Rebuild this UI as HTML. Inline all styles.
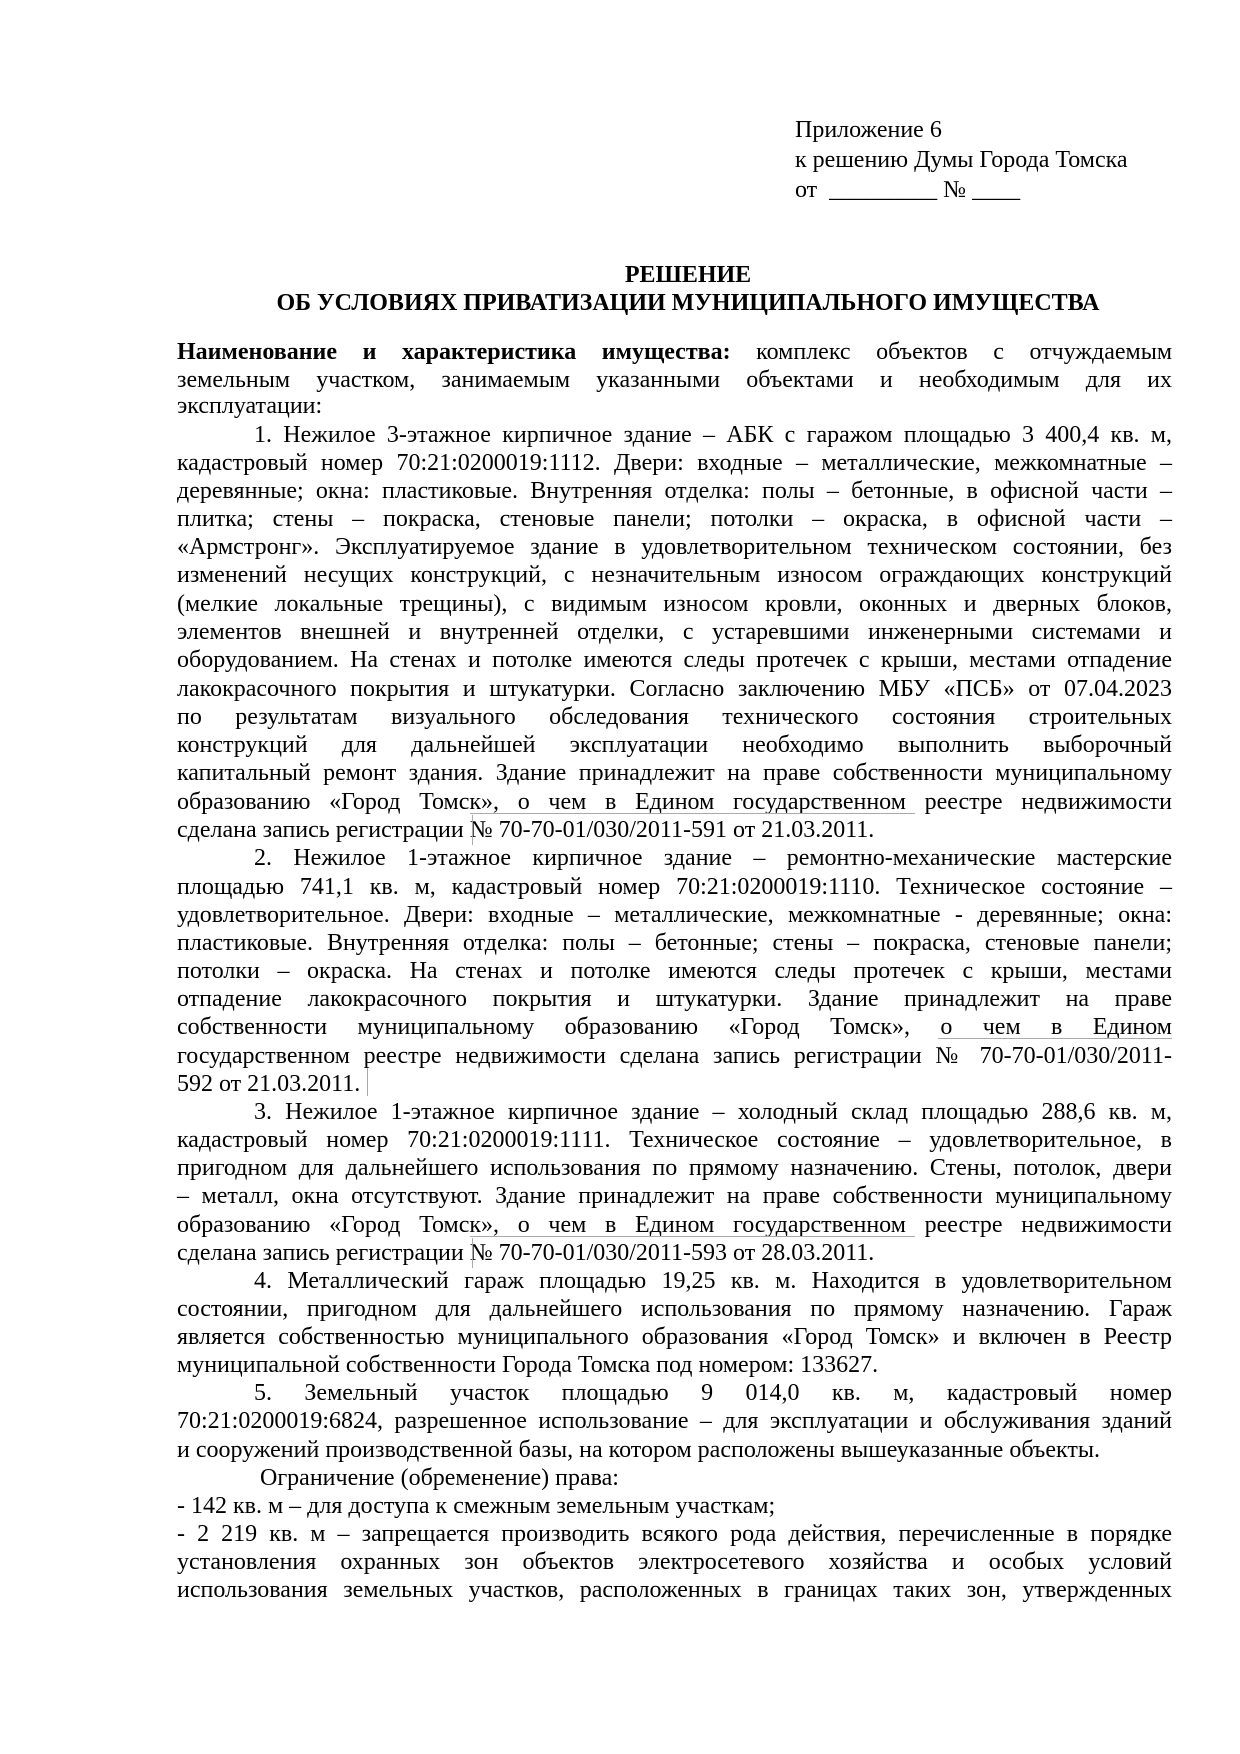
<!DOCTYPE html>
<html><head><meta charset="utf-8"><style>
body{margin:0;background:#fff;}
#p{position:relative;width:1240px;height:1754px;overflow:hidden;font-family:"Liberation Serif","DejaVu Serif",serif;font-size:24px;color:#000;}
.l{position:absolute;height:28px;line-height:28px;white-space:nowrap;text-align:justify;text-align-last:justify;}
.e{text-align:left;text-align-last:left;}
.c{text-align:center;text-align-last:center;font-weight:bold;}
.bx{position:absolute;border:1px solid #aaa;}
.ln{position:absolute;height:0;border-top:1px solid #aaa;}
</style></head><body><div id="p">
<div class="l e" style="left:795px;width:150px;top:116px">Приложение 6</div>
<div class="l e" style="left:795px;width:348px;top:146px">к решению Думы Города Томска</div>
<div class="l e" style="left:795px;width:238px;top:176px">от &nbsp;_________ № ____</div>
<div class="l c" style="left:188px;width:1000px;top:261px">РЕШЕНИЕ</div>
<div class="l c" style="left:188px;width:1000px;top:289px">ОБ УСЛОВИЯХ ПРИВАТИЗАЦИИ МУНИЦИПАЛЬНОГО ИМУЩЕСТВА</div>

<div class="l" style="left:177px;width:995px;top:338px"><b>Наименование и характеристика имущества:</b> комплекс объектов с отчуждаемым</div>
<div class="l" style="left:177px;width:995px;top:366px">земельным участком, занимаемым указанными объектами и необходимым для их</div>
<div class="l e" style="left:177px;width:137px;top:392px">эксплуатации:</div>
<div class="l" style="left:254px;width:918px;top:421px">1. Нежилое 3-этажное кирпичное здание – АБК с гаражом площадью 3 400,4 кв. м,</div>
<div class="l" style="left:177px;width:995px;top:449px">кадастровый номер 70:21:0200019:1112. Двери: входные – металлические, межкомнатные –</div>
<div class="l" style="left:177px;width:995px;top:477px">деревянные; окна: пластиковые. Внутренняя отделка: полы – бетонные, в офисной части –</div>
<div class="l" style="left:177px;width:995px;top:505px">плитка; стены – покраска, стеновые панели; потолки – окраска, в офисной части –</div>
<div class="l" style="left:177px;width:995px;top:533px">«Армстронг». Эксплуатируемое здание в удовлетворительном техническом состоянии, без</div>
<div class="l" style="left:177px;width:995px;top:561px">изменений несущих конструкций, с незначительным износом ограждающих конструкций</div>
<div class="l" style="left:177px;width:995px;top:590px">(мелкие локальные трещины), с видимым износом кровли, оконных и дверных блоков,</div>
<div class="l" style="left:177px;width:995px;top:618px">элементов внешней и внутренней отделки, с устаревшими инженерными системами и</div>
<div class="l" style="left:177px;width:995px;top:646px">оборудованием. На стенах и потолке имеются следы протечек с крыши, местами отпадение</div>
<div class="l" style="left:177px;width:995px;top:675px">лакокрасочного покрытия и штукатурки. Согласно заключению МБУ «ПСБ» от 07.04.2023</div>
<div class="l" style="left:177px;width:995px;top:703px">по результатам визуального обследования технического состояния строительных</div>
<div class="l" style="left:177px;width:995px;top:731px">конструкций для дальнейшей эксплуатации необходимо выполнить выборочный</div>
<div class="l" style="left:177px;width:995px;top:759px">капитальный ремонт здания. Здание принадлежит на праве собственности муниципальному</div>
<div class="l" style="left:177px;width:995px;top:788px">образованию «Город Томск», о чем в Едином государственном реестре недвижимости</div>
<div class="ln" style="left:470px;width:445px;top:813px"></div>
<div class="l e" style="left:177px;width:758px;top:816px">сделана запись регистрации № 70-70-01/030/2011-591 от 21.03.2011.</div>
<div class="bx" style="left:472px;width:0;top:815px;height:30px;border-width:0 0 0 1px"></div>
<div class="l" style="left:254px;width:918px;top:844px">2. Нежилое 1-этажное кирпичное здание – ремонтно-механические мастерские</div>
<div class="l" style="left:177px;width:995px;top:873px">площадью 741,1 кв. м, кадастровый номер 70:21:0200019:1110. Техническое состояние –</div>
<div class="l" style="left:177px;width:995px;top:901px">удовлетворительное. Двери: входные – металлические, межкомнатные - деревянные; окна:</div>
<div class="l" style="left:177px;width:995px;top:929px">пластиковые. Внутренняя отделка: полы – бетонные; стены – покраска, стеновые панели;</div>
<div class="l" style="left:177px;width:995px;top:957px">потолки – окраска. На стенах и потолке имеются следы протечек с крыши, местами</div>
<div class="l" style="left:177px;width:995px;top:985px">отпадение лакокрасочного покрытия и штукатурки. Здание принадлежит на праве</div>
<div class="l" style="left:177px;width:995px;top:1013px">собственности муниципальному образованию «Город Томск», о чем в Едином</div>
<div class="ln" style="left:938px;width:234px;top:1038px"></div>
<div class="l" style="left:177px;width:995px;top:1042px">государственном реестре недвижимости сделана запись регистрации № 70-70-01/030/2011-</div>
<div class="bx" style="left:367px;width:0;top:1068px;height:28px;border-width:0 0 0 1px"></div>
<div class="l e" style="left:177px;width:190px;top:1070px">592 от 21.03.2011.</div>
<div class="l" style="left:254px;width:918px;top:1098px">3. Нежилое 1-этажное кирпичное здание – холодный склад площадью 288,6 кв. м,</div>
<div class="l" style="left:177px;width:995px;top:1126px">кадастровый номер 70:21:0200019:1111. Техническое состояние – удовлетворительное, в</div>
<div class="l" style="left:177px;width:995px;top:1154px">пригодном для дальнейшего использования по прямому назначению. Стены, потолок, двери</div>
<div class="l" style="left:177px;width:995px;top:1182px">– металл, окна отсутствуют. Здание принадлежит на праве собственности муниципальному</div>
<div class="l" style="left:177px;width:995px;top:1211px">образованию «Город Томск», о чем в Едином государственном реестре недвижимости</div>
<div class="ln" style="left:470px;width:445px;top:1236px"></div>
<div class="l e" style="left:177px;width:758px;top:1239px">сделана запись регистрации № 70-70-01/030/2011-593 от 28.03.2011.</div>
<div class="bx" style="left:472px;width:0;top:1238px;height:30px;border-width:0 0 0 1px"></div>
<div class="l" style="left:254px;width:918px;top:1267px">4. Металлический гараж площадью 19,25 кв. м. Находится в удовлетворительном</div>
<div class="l" style="left:177px;width:995px;top:1295px">состоянии, пригодном для дальнейшего использования по прямому назначению. Гараж</div>
<div class="l" style="left:177px;width:995px;top:1323px">является собственностью муниципального образования «Город Томск» и включен в Реестр</div>
<div class="l e" style="left:177px;width:767px;top:1351px">муниципальной собственности Города Томска под номером: 133627.</div>
<div class="l" style="left:254px;width:918px;top:1379px">5. Земельный участок площадью 9 014,0 кв. м, кадастровый номер</div>
<div class="l" style="left:177px;width:995px;top:1407px">70:21:0200019:6824, разрешенное использование – для эксплуатации и обслуживания зданий</div>
<div class="l e" style="left:177px;width:971px;top:1436px">и сооружений производственной базы, на котором расположены вышеуказанные объекты.</div>
<div class="l e" style="left:260px;width:403px;top:1464px">Ограничение (обременение) права:</div>
<div class="l e" style="left:177px;width:628px;top:1492px">- 142 кв. м – для доступа к смежным земельным участкам;</div>
<div class="l" style="left:177px;width:995px;top:1520px">- 2 219 кв. м – запрещается производить всякого рода действия, перечисленные в порядке</div>
<div class="l" style="left:177px;width:995px;top:1548px">установления охранных зон объектов электросетевого хозяйства и особых условий</div>
<div class="l" style="left:177px;width:995px;top:1576px">использования земельных участков, расположенных в границах таких зон, утвержденных</div>
</div></body></html>
